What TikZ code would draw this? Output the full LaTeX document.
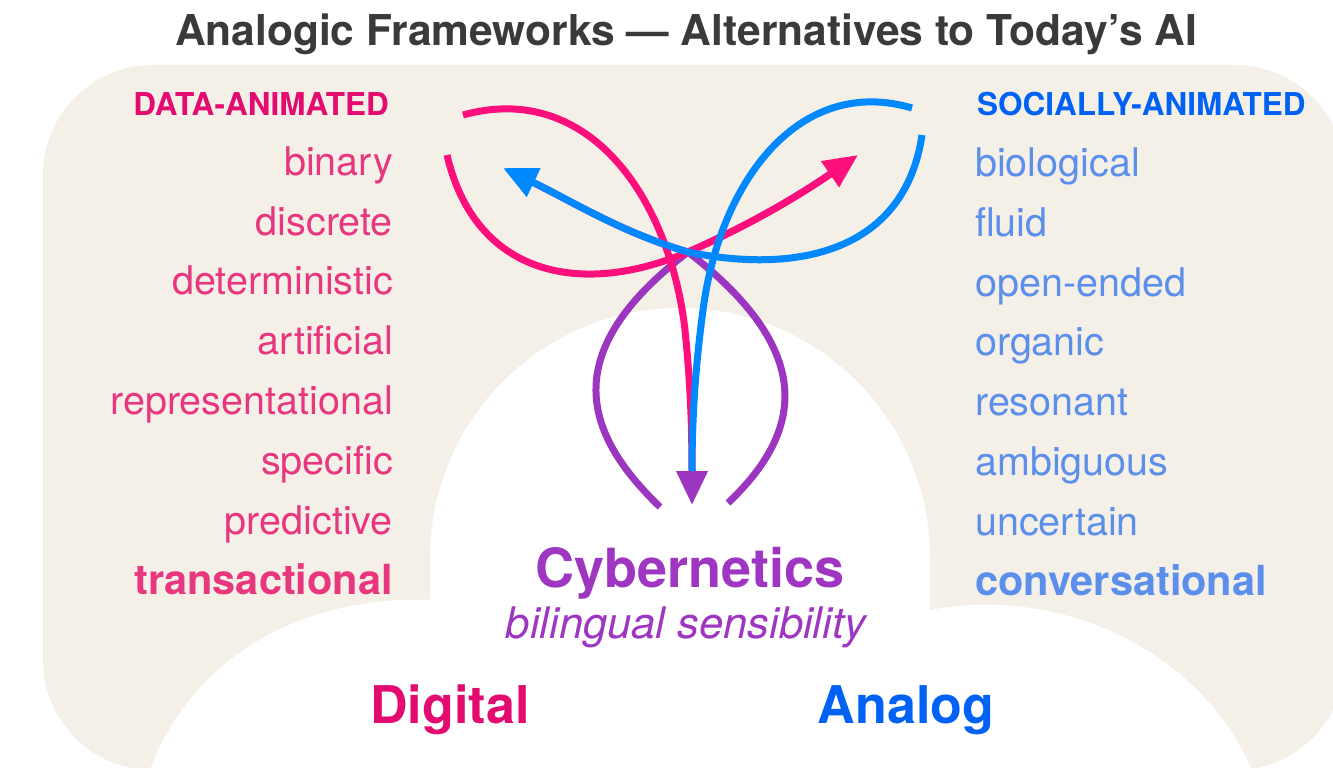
\documentclass[tikz,border=0pt]{standalone}
\usepackage{fontspec}
\setmainfont{TeX Gyre Heros}
\usetikzlibrary{arrows.meta}

\definecolor{sand}{HTML}{F4F0E8}
\definecolor{titlegray}{HTML}{3A3A3A}
\definecolor{digitalpink}{HTML}{E30B6F}
\definecolor{itempink}{HTML}{E8367F}
\definecolor{analogblue}{HTML}{0062F5}
\definecolor{itemblue}{HTML}{5B8FEB}
\definecolor{cyberpurple}{HTML}{9E36C2}
\definecolor{strandpink}{HTML}{FF0F7B}
\definecolor{strandblue}{HTML}{0088FF}
\definecolor{strandpurple}{HTML}{9C36C0}

\begin{document}
\begin{tikzpicture}[x=1pt,y=-1pt,
  leftword/.style={inner sep=0pt,anchor=base east,text=itempink,font=\fontsize{39.5}{44}\selectfont},
  rightword/.style={inner sep=0pt,anchor=base west,text=itemblue,font=\fontsize{39.5}{44}\selectfont},
  boldword/.style={font=\fontsize{41.5}{46}\selectfont\bfseries},
  header/.style={inner sep=0pt,font=\fontsize{31.5}{34}\selectfont\bfseries},
  strand/.style={line width=7pt},
  arrowend/.style={-{Triangle[length=34pt,width=30pt]}}]
\useasboundingbox (0,0) rectangle (1333,768);
\clip (0,0) rectangle (1333,768);
\fill[white] (0,0) rectangle (1333,768);

%background
\fill[sand,rounded corners=110pt] (43,65) rectangle (1345,770);
\fill[white] (150,770) .. controls (190,660) and (300,595) .. (430,600) -- (430,558)
  arc[start angle=180,end angle=360,radius=250] -- (930,610)
  .. controls (1060,585) and (1200,650) .. (1252,770) -- cycle;

%title
\node[inner sep=0pt,anchor=base,text=titlegray,font=\fontsize{42.5}{46}\selectfont\bfseries] (title) at (686,46) {Analogic Frameworks — Alternatives to Today’s AI};

%data-animated
\node[header,anchor=base east,text=digitalpink] (datahead) at (389,115) {DATA-ANIMATED};
\node[leftword] (binary) at (393,175) {binary};
\node[leftword] (discrete) at (393,235) {discrete};
\node[leftword] (deterministic) at (393,294) {deterministic};
\node[leftword] (artificial) at (393,354) {artificial};
\node[leftword] (representational) at (393,414) {representational};
\node[leftword] (specific) at (393,474) {specific};
\node[leftword] (predictive) at (393,534) {predictive};
\node[leftword,boldword] (transactional) at (393,594) {transactional};

%socially-animated
\node[header,anchor=base west,text=analogblue] (socialhead) at (977,115) {SOCIALLY-ANIMATED};
\node[rightword] (biological) at (975,176) {biological};
\node[rightword] (fluid) at (975,236) {fluid};
\node[rightword] (openended) at (975,296) {open-ended};
\node[rightword] (organic) at (975,355) {organic};
\node[rightword] (resonant) at (975,415) {resonant};
\node[rightword] (ambiguous) at (975,475) {ambiguous};
\node[rightword] (uncertain) at (975,535) {uncertain};
\node[rightword,boldword] (conversational) at (975,595) {conversational};

%centre
\node[inner sep=0pt,anchor=base,text=cyberpurple,font=\fontsize{54}{60}\selectfont\bfseries] (cyber) at (690,587) {Cybernetics};
\node[inner sep=0pt,anchor=base,text=cyberpurple,font=\fontsize{43.5}{48}\selectfont\itshape] (bilingual) at (686,638) {bilingual sensibility};
\node[inner sep=0pt,anchor=base,text=digitalpink,font=\fontsize{52}{58}\selectfont\bfseries] (digital) at (450,723) {Digital};
\node[inner sep=0pt,anchor=base,text=analogblue,font=\fontsize{52}{58}\selectfont\bfseries] (analog) at (906,723) {Analog};

%strand ends
\coordinate (pinkA) at (463,115);
\coordinate (pinkB) at (447,155);
\coordinate (blueA) at (912,108);
\coordinate (blueB) at (922,135);
\coordinate (purpleA) at (660,507);
\coordinate (purpleB) at (728,503);
\coordinate (knot) at (688,252);
\coordinate (downtip) at (692,505);
\coordinate (righttip) at (858,155);
\coordinate (lefttip) at (503,168);

%purple strands
\draw[strand,strandpurple,shorten >=24pt] (purpleA) .. controls (580,430) and (560,350) .. (knot) .. controls (750,225) and (800,195) .. (righttip);
\draw[strand,strandpurple,shorten >=24pt] (purpleB) .. controls (805,430) and (815,350) .. (knot) .. controls (620,232) and (570,200) .. (lefttip);

%pink strands
\draw[strand,strandpink,shorten >=30pt] (pinkA) .. controls (590,80) and (670,200) .. (685,330) .. controls (690,380) and (692,420) .. (downtip);
\draw[strand,strandpink,arrowend] (pinkB) .. controls (475,275) and (580,298) .. (knot) .. controls (750,225) and (800,195) .. (righttip);

%blue strands
\draw[strand,strandblue,-{Triangle[length=34pt,width=30pt,color=strandpurple]}] (blueA) .. controls (800,75) and (720,180) .. (703,310) .. controls (695,370) and (692,420) .. (downtip);
\draw[strand,strandblue,arrowend] (blueB) .. controls (905,250) and (800,275) .. (knot) .. controls (620,232) and (570,200) .. (lefttip);
\end{tikzpicture}
\end{document}
